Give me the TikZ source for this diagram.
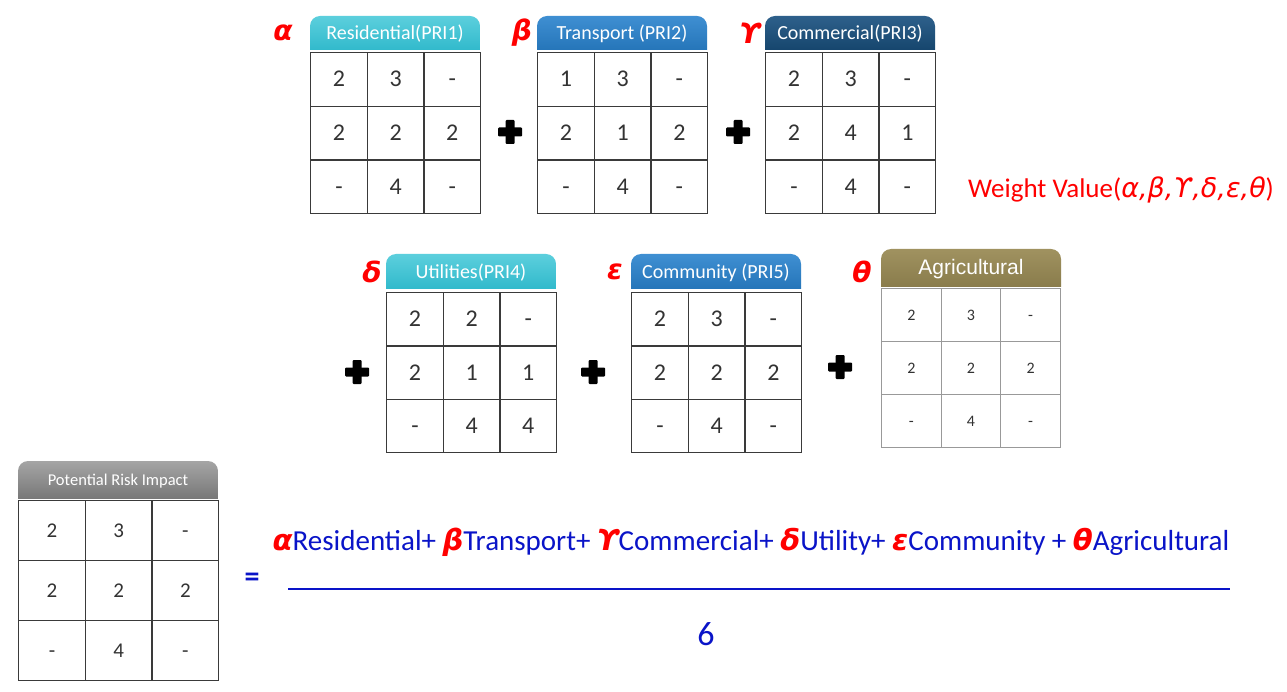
\documentclass[tikz,border=0pt]{standalone}
\usepackage{fontspec}
\setmainfont{Carlito}
\newfontfamily\grk{DejaVu Sans}
\newfontfamily\arialf{Liberation Sans}
\usetikzlibrary{matrix}
\definecolor{cyT}{HTML}{5CCFDD}\definecolor{cyB}{HTML}{1EB0C4}
\definecolor{trT}{HTML}{3F8FD2}\definecolor{trB}{HTML}{1A6AAE}
\definecolor{coT}{HTML}{2E608B}\definecolor{coB}{HTML}{0B3A60}
\definecolor{agT}{HTML}{A09260}\definecolor{agB}{HTML}{817444}
\definecolor{grT}{HTML}{A5A5A5}\definecolor{grB}{HTML}{6A6A6A}
\definecolor{gridc}{HTML}{3A3A3A}
\definecolor{numc}{HTML}{333333}
\definecolor{fblue}{HTML}{0A14C8}
\newcommand\gk[1]{\textcolor{red}{\grk\bfseries\itshape #1}}
\newcommand\hdr[8]{%
  \begin{scope}
    \clip (#2,#3) rectangle (#4,#5);
    \shade[top color=#6,bottom color=#7,rounded corners=10pt] (#2,#3) rectangle (#4,#5+15);
  \end{scope}
  \node[hdrtext] (#1) at ({(#2+#4)/2},{(#3+#5)/2+1}) {#8};}
\newcommand\plussign[2]{%
  \fill[black,rounded corners=1pt] (#1-12,#2-4.5) rectangle (#1+12,#2+4.5);
  \fill[black,rounded corners=1pt] (#1-4.5,#2-12) rectangle (#1+4.5,#2+12);}
\tikzset{
  cell/.style={draw=gridc, line width=1.3pt, anchor=center, inner sep=0pt, text=numc},
  tbl/.style={matrix of nodes, inner sep=0pt, outer sep=0pt, column sep=-1.3pt, row sep=-1.3pt, anchor=north west},
  hdrtext/.style={text=white, font=\fontsize{20}{20}\selectfont, inner sep=0pt},
  greek/.style={text=red, font=\grk\bfseries\itshape\fontsize{28}{28}\selectfont, inner sep=0pt},
  bignum/.style={font=\fontsize{24}{24}\selectfont, text height=15pt, text depth=0pt},
  smallnum/.style={font=\fontsize{16}{16}\selectfont, text height=10pt, text depth=0pt},
  formula/.style={text=fblue, font=\fontsize{29}{29}\selectfont, inner sep=0pt},
}
\begin{document}
\begin{tikzpicture}[x=1pt,y=-1pt]
\useasboundingbox (0,0) rectangle (1287,692);
\fill[white] (0,0) rectangle (1287,692);
% row 1
\hdr{h1}{310}{16}{480}{50}{cyT}{cyB}{Residential(PRI1)}
\matrix[tbl, nodes={cell, bignum, minimum width=56.67pt, minimum height=53.67pt}] (t1) at (310,52)
 {2 & 3 & - \\ 2 & 2 & 2 \\ - & 4 & - \\};
\hdr{h2}{537}{16}{707}{50}{trT}{trB}{Transport (PRI2)}
\matrix[tbl, nodes={cell, bignum, minimum width=56.67pt, minimum height=53.67pt}] (t2) at (537,52)
 {1 & 3 & - \\ 2 & 1 & 2 \\ - & 4 & - \\};
\hdr{h3}{765}{16}{935}{50}{coT}{coB}{Commercial(PRI3)}
\matrix[tbl, nodes={cell, bignum, minimum width=56.67pt, minimum height=53.67pt}] (t3) at (765,52)
 {2 & 3 & - \\ 2 & 4 & 1 \\ - & 4 & - \\};
\node[greek] (ga) at (283,33) {α};
\node[greek] (gb) at (522,33) {β};
\node[greek] (gc) at (750,33) {ϒ};
\plussign{510}{132}
\plussign{738}{132}
\node[text=red, font=\fontsize{27}{27}\selectfont, inner sep=0pt] (wv) at (1121,190)
 {Weight Value({\grk\itshape α,β,ϒ,δ,ε,θ})};
% row 2
\hdr{h4}{386}{254}{556}{289}{cyT}{cyB}{Utilities(PRI4)}
\matrix[tbl, nodes={cell, bignum, minimum width=56.67pt, minimum height=53.33pt}] (t4) at (386,292)
 {2 & 2 & - \\ 2 & 1 & 1 \\ - & 4 & 4 \\};
\hdr{h5}{631}{254}{801}{289}{trT}{trB}{Community (PRI5)}
\matrix[tbl, nodes={cell, bignum, minimum width=56.67pt, minimum height=53.33pt}] (t5) at (631,292)
 {2 & 3 & - \\ 2 & 2 & 2 \\ - & 4 & - \\};
\begin{scope}
  \clip (881,249) rectangle (1061,287);
  \shade[top color=agT,bottom color=agB,rounded corners=10pt] (881,249) rectangle (1061,300);
\end{scope}
\node[text=white, font=\arialf\fontsize{21}{21}\selectfont, inner sep=0pt] (h6) at (971,269) {Agricultural};
\matrix[tbl, nodes={cell, smallnum, draw=gray!80, line width=1pt, minimum width=59.67pt, minimum height=53pt}, column sep=-1pt, row sep=-1pt] (t6) at (881,288)
 {2 & 3 & - \\ 2 & 2 & 2 \\ - & 4 & - \\};
\node[greek] (gd) at (372,272) {δ};
\node[greek] (ge) at (615,272) {ε};
\node[greek] (gf) at (862,272) {θ};
\plussign{357}{372}
\plussign{593}{372}
\plussign{840}{367}
% result
\begin{scope}
  \clip (18,461) rectangle (218,498);
  \shade[top color=grT,bottom color=grB,rounded corners=10pt] (18,461) rectangle (218,510);
\end{scope}
\node[text=white, font=\fontsize{16.5}{16.5}\selectfont, inner sep=0pt] (h7) at (118,481) {Potential Risk Impact};
\matrix[tbl, nodes={cell, font=\fontsize{21}{21}\selectfont, text height=13pt, text depth=0pt, minimum width=66.67pt, minimum height=60pt}] (t7) at (18,500)
 {2 & 3 & - \\ 2 & 2 & 2 \\ - & 4 & - \\};
\node[formula, font=\bfseries\fontsize{30}{30}\selectfont] (eq) at (252,580) {=};
\node[formula] (num) at (751,542)
 {\gk{α}Residential+ \gk{β}Transport+ \gk{ϒ}Commercial+ \gk{δ}Utility+ \gk{ε}Community + \gk{θ}Agricultural};
\coordinate (fl) at (288,589);
\coordinate (fr) at (1230,589);
\draw[fblue, line width=1.3pt] (fl) -- (fr);
\node[formula, font=\fontsize{34}{34}\selectfont] (den) at (706,634) {6};
\end{tikzpicture}
\end{document}
